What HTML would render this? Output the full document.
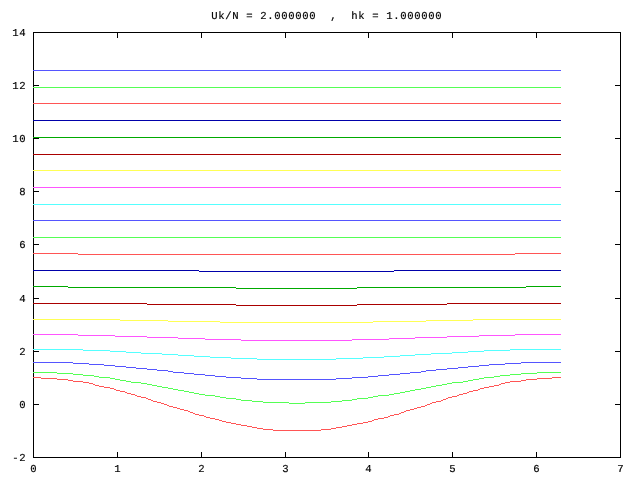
<!DOCTYPE html><html><head><meta charset="utf-8"><title>Uk/N = 2.000000 , hk = 1.000000</title>
<style>html,body{margin:0;padding:0;background:#fff;overflow:hidden}svg{display:block;position:absolute;left:0;top:0}svg.t{will-change:transform;opacity:.999}text{font-family:"Liberation Mono","DejaVu Sans Mono",monospace;font-size:10.6px;white-space:pre;fill:#000;stroke:#000;stroke-width:.18px;-webkit-font-smoothing:antialiased;text-rendering:geometricPrecision}</style></head><body>
<svg width="640" height="480" viewBox="0 0 640 480">
<rect width="640" height="480" fill="#fff"/>
<g fill="none" stroke="#000" stroke-width="1" shape-rendering="crispEdges"><path d="M33.5 32.5H620.5V457.5H33.5ZM33.5 457v-5.5M33.5 33v5M117.5 457v-5.5M117.5 33v5M201.5 457v-5.5M201.5 33v5M285.5 457v-5.5M285.5 33v5M368.5 457v-5.5M368.5 33v5M452.5 457v-5.5M452.5 33v5M536.5 457v-5.5M536.5 33v5M620.5 457v-5.5M620.5 33v5M34 457.5h5M620 457.5h-5M34 404.5h5M620 404.5h-5M34 351.5h5M620 351.5h-5M34 298.5h5M620 298.5h-5M34 244.5h5M620 244.5h-5M34 191.5h5M620 191.5h-5M34 138.5h5M620 138.5h-5M34 85.5h5M620 85.5h-5M34 32.5h5M620 32.5h-5"/></g>
<g fill="none" stroke-width="1" shape-rendering="crispEdges">
<path stroke="#ff5555" d="M33 377.5h8M552 377.5h9M41 378.5h16M537 378.5h15M57 379.5h11M526 379.5h11M68 380.5h5M521 380.5h5M73 381.5h10M510 381.5h11M83 382.5h6M505 382.5h5M89 383.5h4M501 383.5h4M93 384.5h2M499 384.5h2M95 385.5h4M494 385.5h5M99 386.5h5M489 386.5h5M104 387.5h6M484 387.5h5M110 388.5h4M480 388.5h4M114 389.5h2M478 389.5h2M116 390.5h4M473 390.5h5M120 391.5h5M469 391.5h4M125 392.5h2M467 392.5h2M127 393.5h4M463 393.5h4M131 394.5h4M459 394.5h4M135 395.5h2M457 395.5h2M137 396.5h4M452 396.5h5M141 397.5h5M448 397.5h4M146 398.5h2M446 398.5h2M148 399.5h3M443 399.5h3M151 400.5h2M441 400.5h2M153 401.5h4M436 401.5h5M157 402.5h4M432 402.5h4M161 403.5h3M430 403.5h2M164 404.5h3M427 404.5h3M167 405.5h2M425 405.5h2M169 406.5h4M421 406.5h4M173 407.5h4M417 407.5h4M177 408.5h3M414 408.5h3M180 409.5h4M410 409.5h4M184 410.5h4M406 410.5h4M188 411.5h2M404 411.5h2M190 412.5h3M401 412.5h3M193 413.5h2M399 413.5h2M195 414.5h4M394 414.5h5M199 415.5h5M390 415.5h4M204 416.5h2M388 416.5h2M206 417.5h4M384 417.5h4M210 418.5h5M378 418.5h6M215 419.5h4M374 419.5h4M219 420.5h3M372 420.5h2M222 421.5h4M368 421.5h4M226 422.5h5M363 422.5h5M231 423.5h5M357 423.5h6M236 424.5h5M352 424.5h5M241 425.5h6M347 425.5h5M247 426.5h5M342 426.5h5M252 427.5h5M336 427.5h6M257 428.5h6M331 428.5h5M263 429.5h10M321 429.5h10M273 430.5h48"/>
<path stroke="#55ff55" d="M33 372.5h24M537 372.5h24M57 373.5h16M521 373.5h16M73 374.5h10M510 374.5h11M83 375.5h11M500 375.5h10M94 376.5h5M494 376.5h6M99 377.5h11M484 377.5h10M110 378.5h5M479 378.5h5M115 379.5h5M473 379.5h6M120 380.5h6M468 380.5h5M126 381.5h5M463 381.5h5M131 382.5h10M452 382.5h11M141 383.5h6M447 383.5h5M147 384.5h5M442 384.5h5M152 385.5h5M436 385.5h6M157 386.5h5M431 386.5h5M162 387.5h6M426 387.5h5M168 388.5h5M421 388.5h5M173 389.5h5M415 389.5h6M178 390.5h6M410 390.5h5M184 391.5h5M405 391.5h5M189 392.5h5M400 392.5h5M194 393.5h5M394 393.5h6M199 394.5h6M389 394.5h5M205 395.5h10M378 395.5h11M215 396.5h5M373 396.5h5M220 397.5h6M368 397.5h5M226 398.5h10M357 398.5h11M236 399.5h5M352 399.5h5M241 400.5h11M342 400.5h10M252 401.5h11M331 401.5h11M263 402.5h26M305 402.5h26M289 403.5h16"/>
<path stroke="#5555ff" d="M33 362.5h40M521 362.5h40M73 363.5h16M505 363.5h16M89 364.5h15M489 364.5h16M104 365.5h11M479 365.5h10M115 366.5h11M468 366.5h11M126 367.5h10M458 367.5h10M136 368.5h11M447 368.5h11M147 369.5h10M436 369.5h11M157 370.5h11M426 370.5h10M168 371.5h5M421 371.5h5M173 372.5h11M410 372.5h11M184 373.5h10M400 373.5h10M194 374.5h11M389 374.5h11M205 375.5h10M378 375.5h11M215 376.5h11M368 376.5h10M226 377.5h15M352 377.5h16M241 378.5h16M336 378.5h16M257 379.5h79"/>
<path stroke="#55ffff" d="M33 349.5h50M510 349.5h51M83 350.5h27M484 350.5h26M110 351.5h16M468 351.5h16M126 352.5h15M452 352.5h16M141 353.5h21M431 353.5h21M162 354.5h16M415 354.5h16M178 355.5h16M400 355.5h15M194 356.5h16M384 356.5h16M210 357.5h21M363 357.5h21M231 358.5h26M336 358.5h27M257 359.5h79"/>
<path stroke="#ff55ff" d="M33 334.5h45M515 334.5h46M78 335.5h37M479 335.5h36M115 336.5h32M447 336.5h32M147 337.5h31M415 337.5h32M178 338.5h27M389 338.5h26M205 339.5h36M352 339.5h37M241 340.5h111"/>
<path stroke="#ffff55" d="M33 319.5h87M473 319.5h88M120 320.5h48M426 320.5h47M168 321.5h52M373 321.5h53M220 322.5h153"/>
<path stroke="#aa0000" d="M33 303.5h114M447 303.5h114M147 304.5h89M357 304.5h90M236 305.5h121"/>
<path stroke="#00aa00" d="M33 286.5h35M526 286.5h35M68 287.5h168M357 287.5h169M236 288.5h121"/>
<path stroke="#0000aa" d="M33 270.5h166M394 270.5h167M199 271.5h195"/>
<path stroke="#ff5555" d="M33 253.5h45M515 253.5h46M78 254.5h437"/>
<path stroke="#55ff55" d="M33 237.5h528"/>
<path stroke="#5555ff" d="M33 220.5h528"/>
<path stroke="#55ffff" d="M33 204.5h528"/>
<path stroke="#ff55ff" d="M33 187.5h528"/>
<path stroke="#ffff55" d="M33 170.5h528"/>
<path stroke="#aa0000" d="M33 154.5h528"/>
<path stroke="#00aa00" d="M33 137.5h528"/>
<path stroke="#0000aa" d="M33 120.5h528"/>
<path stroke="#ff5555" d="M33 103.5h528"/>
<path stroke="#55ff55" d="M33 87.5h528"/>
<path stroke="#5555ff" d="M33 70.5h528"/>
</g>
</svg>
<svg class="t" width="640" height="480" viewBox="0 0 640 480">
<text text-anchor="middle" x="214.5 221.5 228.5 235.5 242.5 249.5 256.5 263.5 270.5 277.5 284.5 291.5 298.5 305.5 312.5 319.5 326.5 333.5 340.5 347.5 354.5 361.5 368.5 375.5 382.5 389.5 396.5 403.5 410.5 417.5 424.5 431.5 438.5" y="19" xml:space="preserve">Uk/N = 2.000000  ,  hk = 1.000000</text>
<text text-anchor="middle" x="15.5 22.5" y="461" xml:space="preserve">-2</text>
<text text-anchor="middle" x="22.5" y="408" xml:space="preserve">0</text>
<text text-anchor="middle" x="22.5" y="355" xml:space="preserve">2</text>
<text text-anchor="middle" x="22.5" y="302" xml:space="preserve">4</text>
<text text-anchor="middle" x="22.5" y="248" xml:space="preserve">6</text>
<text text-anchor="middle" x="22.5" y="195" xml:space="preserve">8</text>
<text text-anchor="middle" x="15.5 22.5" y="142" xml:space="preserve">10</text>
<text text-anchor="middle" x="15.5 22.5" y="89" xml:space="preserve">12</text>
<text text-anchor="middle" x="15.5 22.5" y="36" xml:space="preserve">14</text>
<text text-anchor="middle" x="33.5" y="472" xml:space="preserve">0</text>
<text text-anchor="middle" x="117.5" y="472" xml:space="preserve">1</text>
<text text-anchor="middle" x="201.5" y="472" xml:space="preserve">2</text>
<text text-anchor="middle" x="285.5" y="472" xml:space="preserve">3</text>
<text text-anchor="middle" x="368.5" y="472" xml:space="preserve">4</text>
<text text-anchor="middle" x="452.5" y="472" xml:space="preserve">5</text>
<text text-anchor="middle" x="536.5" y="472" xml:space="preserve">6</text>
<text text-anchor="middle" x="620.5" y="472" xml:space="preserve">7</text>
</svg></body></html>
